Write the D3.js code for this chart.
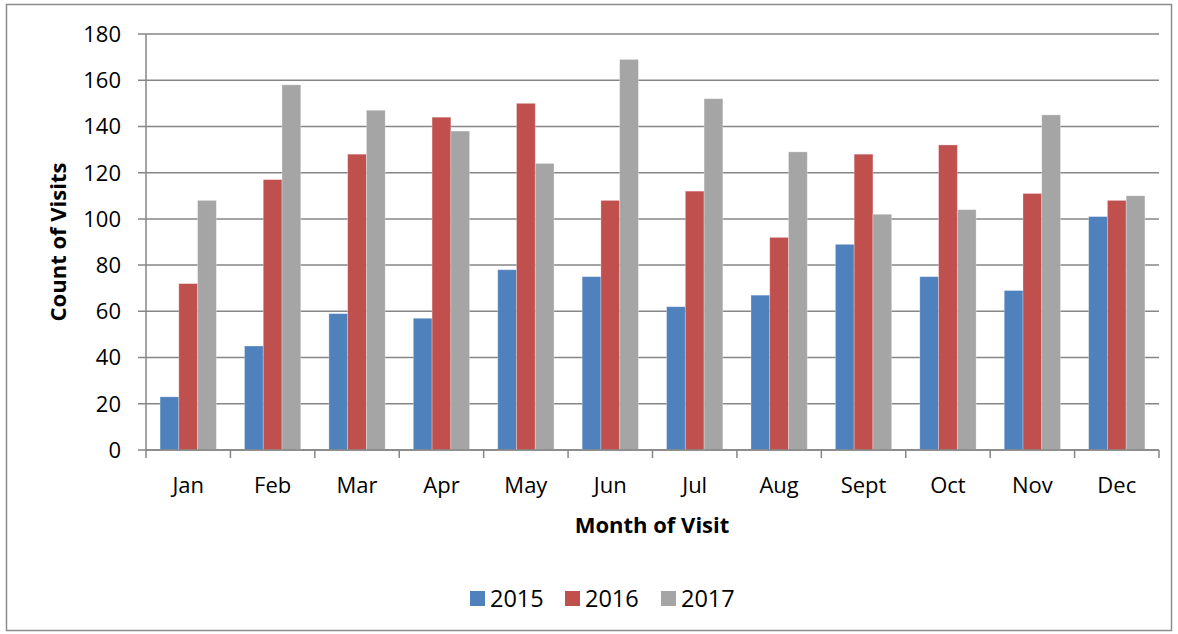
<!DOCTYPE html>
<html><head><meta charset="utf-8">
<script src="https://cdn.jsdelivr.net/npm/d3@7"></script>
<style>body{margin:0;background:#fff}svg{display:block}text{font-family:"Open Sans",sans-serif;fill:#000}</style>
</head><body><svg id="c" width="1178" height="634"></svg>
<script>
const months = ["Jan","Feb","Mar","Apr","May","Jun","Jul","Aug","Sept","Oct","Nov","Dec"];
const seriesNames = ["2015","2016","2017"];
const v2015 = [23,45,59,57,78,75,62,67,89,75,69,101];
const v2016 = [72,117,128,144,150,108,112,92,128,132,111,108];
const v2017 = [108,158,147,138,124,169,152,129,102,104,145,110];
const yTicks = [0,20,40,60,80,100,120,140,160,180];
const colors = ["#4F81BD","#C0504D","#A5A5A5"];

const series = [v2015,v2016,v2017];
const svg = d3.select("#c");
svg.append("rect").attr("x",6.5).attr("y",4.5).attr("width",1165).attr("height",626)
  .attr("fill","#fff").attr("stroke","#8c8c8c").attr("stroke-width",1.5);

const L=146,R=1159,T=34,B=450;
const x = d3.scaleBand().domain(months).range([L,R]).paddingInner(0).paddingOuter(0);
const y = d3.scaleLinear().domain([0,180]).range([B,T]);
const inner = d3.scaleBand().domain(seriesNames).range([0,x.bandwidth()]).paddingInner(0).paddingOuter(0.75);

// gridlines
svg.append("g").selectAll("line").data(yTicks).join("line")
  .attr("x1",L-8).attr("x2",R).attr("y1",d=>y(d)).attr("y2",d=>y(d))
  .attr("stroke","#868686").attr("stroke-width",1.5);

// y labels
svg.append("g").selectAll("text").data(yTicks).join("text")
  .attr("x",121).attr("y",d=>y(d)).attr("dy","0.36em").attr("text-anchor","end")
  .style("font-size","22px").text(d=>d);

// bars
const g = svg.append("g");
series.forEach((vals,si)=>{
  g.append("g").selectAll("rect").data(vals).join("rect")
    .attr("x",(d,i)=>x(months[i])+inner(seriesNames[si]))
    .attr("width",inner.bandwidth())
    .attr("y",d=>y(d)).attr("height",d=>B-y(d))
    .attr("fill",colors[si]).attr("stroke","#ffffff").attr("stroke-opacity",0.35).attr("stroke-width",0.8);
});

// axes
svg.append("line").attr("x1",L).attr("x2",L).attr("y1",T).attr("y2",B).attr("stroke","#868686").attr("stroke-width",1.5);
svg.append("line").attr("x1",L).attr("x2",R).attr("y1",B).attr("y2",B).attr("stroke","#868686").attr("stroke-width",1.5);
const xt = months.map(m=>x(m)).concat([R]);
svg.append("g").selectAll("line").data(xt).join("line")
  .attr("x1",d=>d).attr("x2",d=>d).attr("y1",B).attr("y2",B+8)
  .attr("stroke","#868686").attr("stroke-width",1.5);

svg.append("g").selectAll("text").data(months).join("text")
  .attr("x",d=>x(d)+x.bandwidth()/2).attr("y",485).attr("dy","0.36em").attr("text-anchor","middle")
  .style("font-size","22px").text(d=>d);

svg.append("text").attr("x",652).attr("y",525).attr("dy","0.36em").attr("text-anchor","middle")
  .style("font-size","22px").style("font-weight","bold").text("Month of Visit");
svg.append("text").attr("transform","translate(58,242) rotate(-90)").attr("dy","0.36em").attr("text-anchor","middle")
  .style("font-size","22px").style("font-weight","bold").text("Count of Visits");

// legend
const legX = [470,565,661];
const lg = svg.append("g");
seriesNames.forEach((s,i)=>{
  lg.append("rect").attr("x",legX[i]).attr("y",591).attr("width",15).attr("height",15).attr("fill",colors[i]);
  lg.append("text").attr("x",legX[i]+20).attr("y",599).attr("dy","0.36em").style("font-size","23.5px").text(s);
});
</script></body></html>
